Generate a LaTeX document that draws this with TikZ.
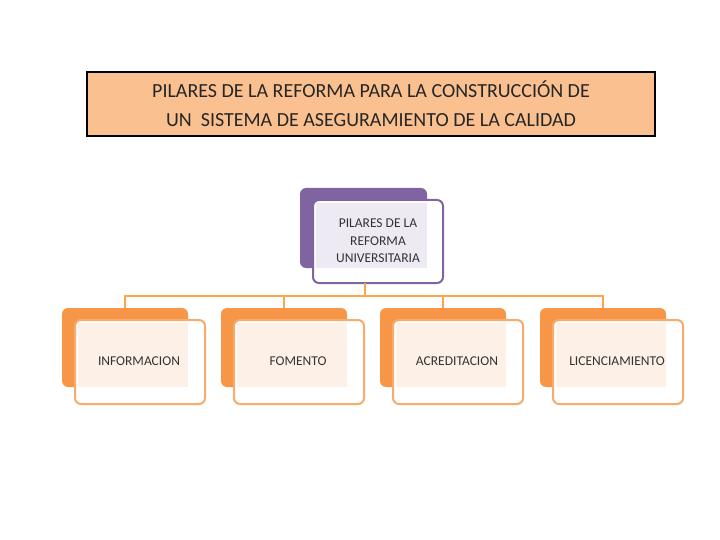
\documentclass[tikz,border=0pt]{standalone}
\usepackage{fontspec}
\setmainfont{Carlito}
\begin{document}
\begin{tikzpicture}[x=1pt,y=-1pt,
  back/.style={rounded corners=6pt},
  front/.style={rounded corners=6pt,draw,line width=2pt,fill=white},
  conn/.style={draw=orange!70!white,line width=2pt},
  lbl/.style={font=\fontsize{13.5}{17.5}\selectfont,align=center,text=black!80}]
\definecolor{org}{HTML}{F79646}
\definecolor{orgtint}{HTML}{FDF0E6}
\definecolor{pur}{HTML}{8064A2}
\definecolor{purtint}{HTML}{EEEAF4}
\definecolor{ttl}{HTML}{FAC090}
\useasboundingbox (0,0) rectangle (720,540);
% title
\node[draw=black,line width=1.5pt,fill=ttl,minimum width=568pt,minimum height=64pt,inner sep=0,align=center,font=\fontsize{20}{29}\selectfont,text=black!85] (title) at (371,104) {PILARES DE LA REFORMA PARA LA CONSTRUCCIÓN DE\\UN \ SISTEMA DE ASEGURAMIENTO DE LA CALIDAD};
% root
\fill[pur,back] (300,188) rectangle (427,268);
\draw[front,draw=pur] (313,200) rectangle (443,283);
\fill[purtint] (316,203) rectangle (427,268);
\node[lbl] (root) at (378,241) {PILARES DE LA\\REFORMA\\UNIVERSITARIA};
\coordinate (rb) at (365,283);
\coordinate (hb) at (365,296);
% children
\foreach \x/\n/\t in {62/c1/INFORMACION,221/c2/FOMENTO,380/c3/ACREDITACION,540/c4/LICENCIAMIENTO}{
  \fill[org,back] (\x,308) rectangle ++(126,79);
  \draw[front,draw=org!80!white] (\x+13,320) rectangle ++(130,84);
  \fill[orgtint] (\x+16,323) rectangle ++(110,64);
  \node[lbl] (\n) at (\x+77,361) {\t};
  \coordinate (\n t) at (\x+63,308);
}
\draw[conn] (rb) -- (hb);
\draw[conn] (c1t) -- (c1t|-hb) -- (c4t|-hb) -- (c4t);
\draw[conn] (c2t|-hb) -- (c2t);
\draw[conn] (c3t|-hb) -- (c3t);
\end{tikzpicture}
\end{document}
